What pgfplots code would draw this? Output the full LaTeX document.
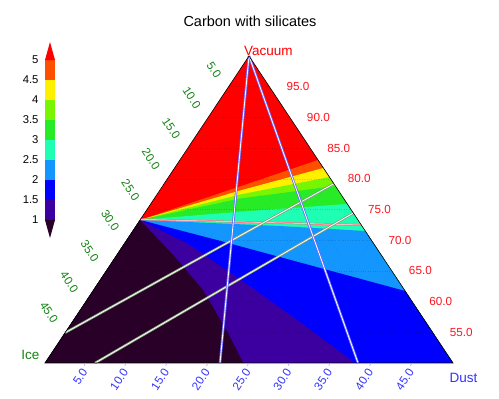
\documentclass[border=0pt]{standalone}
\usepackage{fontspec}
\setmainfont{Liberation Sans}
\usepackage{pgfplots}
\pgfplotsset{compat=1.18}
\definecolor{c0}{RGB}{40,0,40}
\definecolor{c1}{RGB}{60,0,160}
\definecolor{c15}{RGB}{0,0,255}
\definecolor{c2}{RGB}{20,150,255}
\definecolor{c25}{RGB}{30,255,180}
\definecolor{c3}{RGB}{40,235,40}
\definecolor{c35}{RGB}{120,245,0}
\definecolor{c4}{RGB}{255,240,0}
\definecolor{c45}{RGB}{255,80,0}
\definecolor{c5}{RGB}{255,0,0}
\definecolor{labred}{RGB}{255,20,30}
\definecolor{labgreen}{RGB}{20,130,20}
\definecolor{labblue}{RGB}{50,50,255}
\definecolor{lblue}{RGB}{105,105,255}
\definecolor{lgray}{RGB}{130,160,120}
\definecolor{lpink}{RGB}{255,110,130}
\definecolor{tickb}{RGB}{160,160,255}
\newcommand{\ticksz}{\fontsize{11.7}{13}\selectfont}
\tikzset{
  rl/.style={anchor=west, inner sep=0pt, xshift=17pt, text=labred, font=\ticksz},
  bl/.style={anchor=east, inner sep=0pt, xshift=-1pt, yshift=-7pt, rotate=56.4, text=labblue, font=\ticksz},
  gl/.style={anchor=east, inner sep=0pt, xshift=-10pt, yshift=10pt, rotate=-56.4, text=labgreen, font=\ticksz},
  gridl/.style={draw=black, opacity=0.14, dotted, line width=0.4pt},
  band/.style={draw=none, fill=#1},
}
\begin{document}
\begin{tikzpicture}
\begin{axis}[x={(8.16pt,0pt)}, y={(4.08pt,6.14pt)},
  xmin=0, xmax=50, ymin=50, ymax=100, hide axis, clip=false]
% contour bands (Dust, Vacuum)
\addplot[band=c5] coordinates {(0,50) (50,50) (0,100)} -- cycle;
\addplot[band=c45] coordinates {(0,73.3) (9.52,78.75) (16.94,83.06) (50,50) (0,50)} -- cycle;
\addplot[band=c4] coordinates {(0,73.3) (9.85,78.09) (18.24,81.76) (50,50) (0,50)} -- cycle;
\addplot[band=c35] coordinates {(0,73.3) (10.18,77.44) (19.71,80.29) (50,50) (0,50)} -- cycle;
\addplot[band=c3] coordinates {(0,73.3) (10.50,76.79) (21.17,78.83) (50,50) (0,50)} -- cycle;
\addplot[band=c25] coordinates {(0,73.3) (11.58,74.64) (24.10,75.90) (50,50) (0,50)} -- cycle;
\addplot[band=c2] coordinates {(0,73.3) (17.64,72.31) (28.50,71.50) (50,50) (0,50)} -- cycle;
\addplot[band=c15] coordinates {(0,73.3) (11.06,70.03) (38.27,61.73) (50,50) (0,50)} -- cycle;
\addplot[band=c1] coordinates {(0,73.3) (8.16,69.22) (18.0,63.03) (27.91,56.68) (37.99,50) (0,50)} -- cycle;
\addplot[band=c0] coordinates {(0,73.3) (7.30,67.26) (13.42,61.89) (19.98,54.89) (24.3,50) (0,50)} -- cycle;
% faint dotted grid
\addplot[gridl] coordinates {(0,55) (45,55)};
\addplot[gridl] coordinates {(0,60) (40,60)};
\addplot[gridl] coordinates {(0,65) (35,65)};
\addplot[gridl] coordinates {(0,70) (30,70)};
\addplot[gridl] coordinates {(0,75) (25,75)};
\addplot[gridl] coordinates {(0,80) (20,80)};
\addplot[gridl] coordinates {(0,85) (15,85)};
\addplot[gridl] coordinates {(0,90) (10,90)};
\addplot[gridl] coordinates {(0,95) (5,95)};
\addplot[gridl] coordinates {(5,50) (5,95)};
\addplot[gridl] coordinates {(10,50) (10,90)};
\addplot[gridl] coordinates {(15,50) (15,85)};
\addplot[gridl] coordinates {(20,50) (20,80)};
\addplot[gridl] coordinates {(25,50) (25,75)};
\addplot[gridl] coordinates {(30,50) (30,70)};
\addplot[gridl] coordinates {(35,50) (35,65)};
\addplot[gridl] coordinates {(40,50) (40,60)};
\addplot[gridl] coordinates {(45,50) (45,55)};
\addplot[gridl] coordinates {(0,95) (45,50)};
\addplot[gridl] coordinates {(0,90) (40,50)};
\addplot[gridl] coordinates {(0,85) (35,50)};
\addplot[gridl] coordinates {(0,80) (30,50)};
\addplot[gridl] coordinates {(0,75) (25,50)};
\addplot[gridl] coordinates {(0,70) (20,50)};
\addplot[gridl] coordinates {(0,65) (15,50)};
\addplot[gridl] coordinates {(0,60) (10,50)};
\addplot[gridl] coordinates {(0,55) (5,50)};
% overlay lines
\addplot[draw=lpink, line width=0.7pt, double=pink!40, double distance=0.5pt] coordinates {(0,73.4) (27.52,72.48)};
\addplot[draw=lgray, line width=0.8pt, double=white, double distance=0.8pt] coordinates {(0,54.93) (20.8,79.2)};
\addplot[draw=lgray, line width=0.8pt, double=white, double distance=0.8pt] coordinates {(6.13,50) (25.57,74.43)};
\addplot[draw=lblue, line width=0.8pt, double=white, double distance=0.8pt] coordinates {(0,100) (21.45,50)};
\addplot[draw=lblue, line width=0.8pt, double=white, double distance=0.8pt] coordinates {(0,100) (38.36,50)};
% outline
\addplot[draw=black, line width=0.6pt] coordinates {(0,50) (50,50) (0,100)} -- cycle;
% small ticks on the Dust edge
\addplot[draw=tickb, line width=0.5pt] coordinates {(5,50) (5,49.55)};
\addplot[draw=tickb, line width=0.5pt] coordinates {(10,50) (10,49.55)};
\addplot[draw=tickb, line width=0.5pt] coordinates {(15,50) (15,49.55)};
\addplot[draw=tickb, line width=0.5pt] coordinates {(20,50) (20,49.55)};
\addplot[draw=tickb, line width=0.5pt] coordinates {(25,50) (25,49.55)};
\addplot[draw=tickb, line width=0.5pt] coordinates {(30,50) (30,49.55)};
\addplot[draw=tickb, line width=0.5pt] coordinates {(35,50) (35,49.55)};
\addplot[draw=tickb, line width=0.5pt] coordinates {(40,50) (40,49.55)};
\addplot[draw=tickb, line width=0.5pt] coordinates {(45,50) (45,49.55)};
% Vacuum tick labels
\node[rl] at (axis cs:45,55) {55.0};
\node[rl] at (axis cs:40,60) {60.0};
\node[rl] at (axis cs:35,65) {65.0};
\node[rl] at (axis cs:30,70) {70.0};
\node[rl] at (axis cs:25,75) {75.0};
\node[rl] at (axis cs:20,80) {80.0};
\node[rl] at (axis cs:15,85) {85.0};
\node[rl] at (axis cs:10,90) {90.0};
\node[rl] at (axis cs:5,95) {95.0};
% Dust tick labels
\node[bl] at (axis cs:5,50) {5.0};
\node[bl] at (axis cs:10,50) {10.0};
\node[bl] at (axis cs:15,50) {15.0};
\node[bl] at (axis cs:20,50) {20.0};
\node[bl] at (axis cs:25,50) {25.0};
\node[bl] at (axis cs:30,50) {30.0};
\node[bl] at (axis cs:35,50) {35.0};
\node[bl] at (axis cs:40,50) {40.0};
\node[bl] at (axis cs:45,50) {45.0};
% Ice tick labels
\node[gl] at (axis cs:0,95) {5.0};
\node[gl] at (axis cs:0,90) {10.0};
\node[gl] at (axis cs:0,85) {15.0};
\node[gl] at (axis cs:0,80) {20.0};
\node[gl] at (axis cs:0,75) {25.0};
\node[gl] at (axis cs:0,70) {30.0};
\node[gl] at (axis cs:0,65) {35.0};
\node[gl] at (axis cs:0,60) {40.0};
\node[gl] at (axis cs:0,55) {45.0};
% corner names
\node[anchor=base west, inner sep=0pt, xshift=-5pt, yshift=0.5pt, text=red, font=\fontsize{13.5}{15}\selectfont] at (axis cs:0,100) {Vacuum};
\node[anchor=base east, inner sep=0pt, xshift=-5.5pt, yshift=3pt, text=labgreen, font=\fontsize{13.5}{15}\selectfont] at (axis cs:0,50) {Ice};
\node[anchor=base west, inner sep=0pt, xshift=-3.5pt, yshift=-20pt, text=labblue, font=\fontsize{13.5}{15}\selectfont] at (axis cs:50,50) {Dust};
% title
\node[anchor=base, inner sep=0pt, font=\fontsize{14.5}{17}\selectfont] at (axis cs:-2.263,104.77) {Carbon with silicates};
\coordinate (cb) at (axis cs:-11.645,73.29);
\coordinate (P00) at (axis cs:-2.583,44.137);
\coordinate (P11) at (axis cs:26.077,109.121);
\end{axis}
\begin{axis}[at={(cb)}, anchor=south west, scale only axis, width=10pt, height=160pt,
  xmin=0, xmax=1, ymin=1, ymax=5, clip=false,
  axis x line=none, axis y line*=left,
  y axis line style={-, draw=black, line width=0.5pt},
  ytick={1,1.5,2,2.5,3,3.5,4,4.5,5},
  yticklabels={1,1.5,2,2.5,3,3.5,4,4.5,5},
  major tick length=0pt,
  yticklabel style={font=\fontsize{11.3}{13}\selectfont, xshift=-3pt},
  ]
\addplot[band=c1] coordinates {(0,1) (1,1) (1,1.5) (0,1.5)} -- cycle;
\addplot[band=c15] coordinates {(0,1.5) (1,1.5) (1,2) (0,2)} -- cycle;
\addplot[band=c2] coordinates {(0,2) (1,2) (1,2.5) (0,2.5)} -- cycle;
\addplot[band=c25] coordinates {(0,2.5) (1,2.5) (1,3) (0,3)} -- cycle;
\addplot[band=c3] coordinates {(0,3) (1,3) (1,3.5) (0,3.5)} -- cycle;
\addplot[band=c35] coordinates {(0,3.5) (1,3.5) (1,4) (0,4)} -- cycle;
\addplot[band=c4] coordinates {(0,4) (1,4) (1,4.5) (0,4.5)} -- cycle;
\addplot[band=c45] coordinates {(0,4.5) (1,4.5) (1,5) (0,5)} -- cycle;
\addplot[band=c5] coordinates {(0,5) (1,5) (0.5,5.45)} -- cycle;
\addplot[band=c0] coordinates {(0,1) (1,1) (0.5,0.55)} -- cycle;
\end{axis}
\pgfresetboundingbox
\useasboundingbox (P00) rectangle (P11);
\end{tikzpicture}
\end{document}
